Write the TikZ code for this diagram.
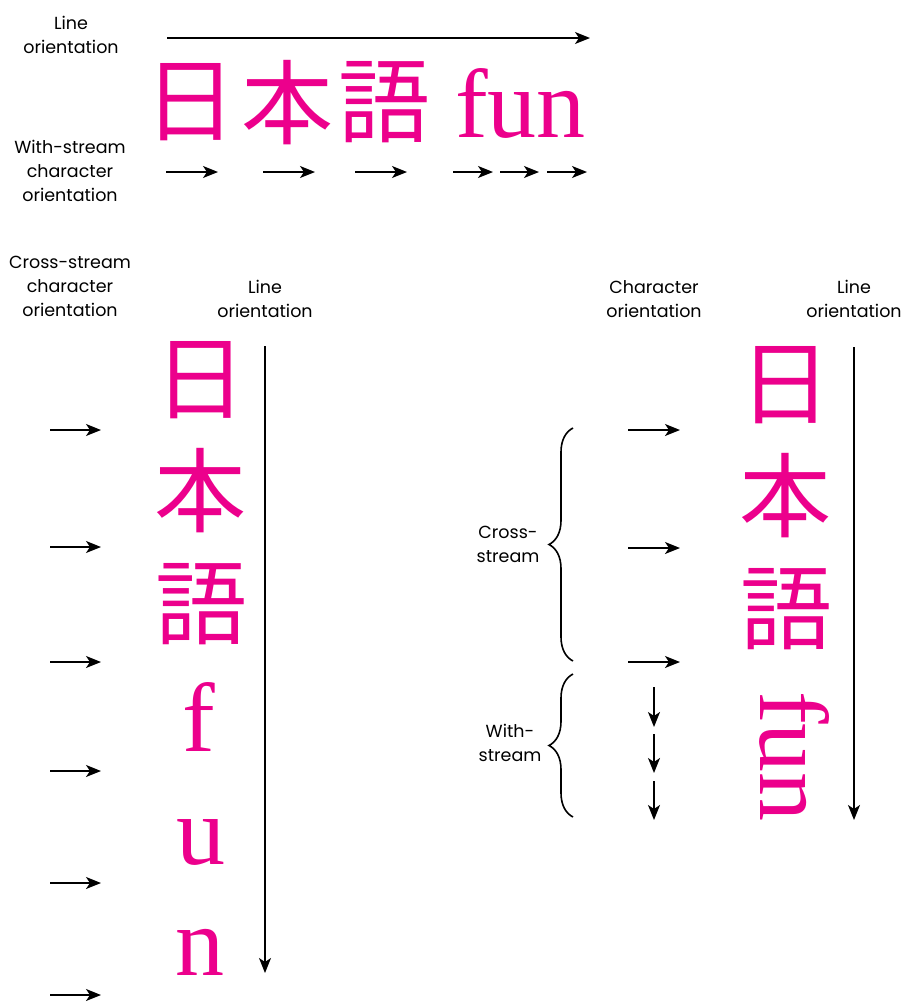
\documentclass[tikz,border=0pt]{standalone}
\usepackage{fontspec}
\setmainfont{Poppins}
\newfontfamily\cjkfont{Noto Sans CJK JP}
\newfontfamily\latinbig{Liberation Serif}
\usetikzlibrary{arrows.meta,decorations.pathreplacing}
\definecolor{mag}{RGB}{236,0,140}
\begin{document}
\begin{tikzpicture}[x=1pt,y=-1pt,
  lbl/.style={font=\fontsize{17.5}{24}\selectfont, align=center, inner sep=0pt, anchor=north},
  cjk/.style={font=\cjkfont\fontsize{92}{92}\selectfont, text=mag, inner sep=0pt},
  lat/.style={font=\latinbig\fontsize{98}{98}\selectfont, text=mag, inner sep=0pt, anchor=base},
  arr/.style={line width=1.5pt, -{Stealth[length=15pt,width=12pt,inset=4pt]}},
  brc/.style={line width=1.6pt, decorate, decoration={brace, amplitude=24pt}}]
\useasboundingbox (0,0) rectangle (907,1002);

% ---------- top: horizontal line ----------
\node[lbl] (lineA) at (71,16) {Line\\orientation};
\node[lbl] (withA) at (70,140) {With-stream\\character\\orientation};
\coordinate (topS) at (167,38);
\coordinate (topE) at (590,38);
\draw[arr] (topS) -- (topE);
\node[cjk] (t1) at (190.5,102.5) {日};
\node[cjk] (t2) at (287,102.5) {本};
\node[cjk] (t3) at (384,102.5) {語};
\node[lat, anchor=base west] (t4) at (455,137) {fun};
\foreach \a/\b in {166/218, 263/315, 355/407, 453/493, 500/539, 547/587}
  \draw[arr] (\a,172) -- (\b,172);

% ---------- left: vertical line, upright ----------
\node[lbl] (crossB) at (70,256) {Cross-stream\\character\\orientation};
\node[lbl] (lineB) at (265,280) {Line\\orientation};
\coordinate (vbS) at (265,346);
\coordinate (vbE) at (265,973);
\draw[arr] (vbS) -- (vbE);
\node[cjk] (b1) at (200.5,380) {日};
\node[cjk] (b2) at (200,491) {本};
\node[cjk] (b3) at (201,604) {語};
\node[lat] (b4) at (199,751) {f};
\node[lat] (b5) at (201,864) {u};
\node[lat] (b6) at (200,975) {n};
\foreach \y in {430,547,662,771,883,995}
  \draw[arr] (50,\y) -- (101,\y);

% ---------- right: vertical line, mixed ----------
\node[lbl] (charC) at (654,280) {Character\\orientation};
\node[lbl] (lineC) at (854,280) {Line\\orientation};
\coordinate (vcS) at (854,347);
\coordinate (vcE) at (854,820);
\draw[arr] (vcS) -- (vcE);
\node[cjk] (c1) at (785.5,385) {日};
\node[cjk] (c2) at (785,496) {本};
\node[cjk] (c3) at (786,609) {語};
\node[lat, anchor=base west, rotate=-90] (c4) at (760,691) {fun};
\foreach \y in {430,548,662}
  \draw[arr] (628,\y) -- (680,\y);
\foreach \a/\b in {687/727, 734/773, 781/820}
  \draw[arr] (654,\a) -- (654,\b);

\coordinate (brAt) at (573,428);
\coordinate (brAb) at (573,661);
\coordinate (brBt) at (573,674);
\coordinate (brBb) at (573,817);
\draw[brc] (brAb) -- (brAt);
\draw[brc] (brBb) -- (brBt);
\node[lbl] (crossC) at (508,526) {Cross-\\stream};
\node[lbl] (withC) at (510,724) {With-\\stream};
\end{tikzpicture}
\end{document}
